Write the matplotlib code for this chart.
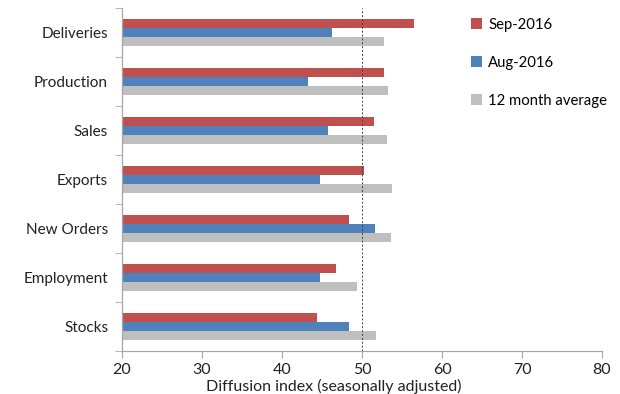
import numpy as np
import matplotlib
matplotlib.use("Agg")
import matplotlib.pyplot as plt

# categories, top to bottom
categories = ["Deliveries", "Production", "Sales", "Exports", "New Orders", "Employment", "Stocks"]
sep_2016 = [56.5, 52.7, 51.5, 50.2, 48.4, 46.7, 44.4]
aug_2016 = [46.3, 43.2, 45.8, 44.8, 51.6, 44.7, 48.4]
avg_12m = [52.7, 53.3, 53.1, 53.7, 53.6, 49.4, 51.7]
x_ticks = [20, 30, 40, 50, 60, 70, 80]

plt.rcParams["font.family"] = ["Lato", "DejaVu Sans"]
plt.rcParams["font.size"] = 11

fig = plt.figure(figsize=(6.2, 3.94), dpi=100)
ax = fig.add_axes([122 / 620, 1 - 351 / 394, 480 / 620, 343 / 394])

y = np.arange(len(categories))
h = 0.185
ax.barh(y - h, np.array(sep_2016) - 20, left=20, height=h, color="#C0504D", label="Sep-2016")
ax.barh(y, np.array(aug_2016) - 20, left=20, height=h, color="#4F81BD", label="Aug-2016")
ax.barh(y + h, np.array(avg_12m) - 20, left=20, height=h, color="#BFBFBF", label="12 month average")

# 50 = no change line
ax.axvline(50, color="#404040", linewidth=0.7, linestyle=(0, (2, 2)), zorder=3)

ax.set_xlim(20, 80)
ax.set_ylim(len(categories) - 0.5, -0.5)
ax.set_xticks(x_ticks)
ax.set_yticks(y)
ax.set_yticklabels(categories)
ax.set_yticks(np.arange(-0.5, len(categories)), minor=True)
ax.tick_params(axis="y", which="major", length=0, pad=10, colors="#222222", labelsize=11)
ax.tick_params(axis="y", which="minor", length=5, color="#A6A6A6")
ax.tick_params(axis="x", length=5, color="#A6A6A6", labelsize=11.5, labelcolor="#222222", pad=4)

for s in ["top", "right"]:
    ax.spines[s].set_visible(False)
for s in ["left", "bottom"]:
    ax.spines[s].set_color("#A6A6A6")
    ax.spines[s].set_linewidth(0.9)

ax.set_xlabel("Diffusion index (seasonally adjusted)", fontsize=11.5, color="#222222")
ax.xaxis.set_label_coords((334 - 122) / 480, -0.08)

ax.legend(loc="upper left", bbox_to_anchor=(465 / 620, 1 - 12 / 394),
          bbox_transform=fig.transFigure, frameon=False,
          handlelength=0.75, handleheight=0.75, handletextpad=0.4,
          labelspacing=1.6, fontsize=10.7, borderaxespad=0)

fig.savefig("out.png", dpi=100)
